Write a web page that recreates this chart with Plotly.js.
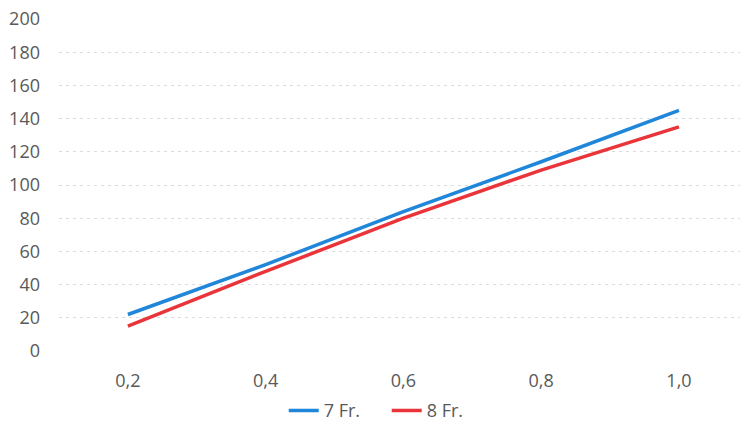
<!DOCTYPE html>
<html>
<head>
<meta charset="utf-8">
<script src="https://cdn.plot.ly/plotly-3.0.1.min.js"></script>
<style>html,body{margin:0;padding:0;background:#fff;}#chart{width:740px;height:423px;}</style>
</head>
<body>
<div id="chart"></div>
<script>
const xValues = [0.2, 0.4, 0.6, 0.8, 1.0];
const xTickLabels = ["0,2", "0,4", "0,6", "0,8", "1,0"];
const series7 = [22, 52, 84, 114, 145];
const series8 = [15, 48, 80, 109, 135];
const seriesNames = ["7 Fr.", "8 Fr."];
const yTicks = [0, 20, 40, 60, 80, 100, 120, 140, 160, 180, 200];

const font = {family: "Open Sans, Noto Sans, sans-serif", size: 18, color: "#595959"};

const data = [
  {x: xValues, y: series7, name: seriesNames[0], type: "scatter", mode: "lines",
   line: {color: "#1f86d9", width: 3.5}},
  {x: xValues, y: series8, name: seriesNames[1], type: "scatter", mode: "lines",
   line: {color: "#e9353a", width: 3.5}}
];

const layout = {
  width: 740, height: 423,
  margin: {l: 59, r: 0, t: 19, b: 72, autoexpand: false},
  paper_bgcolor: "#fff", plot_bgcolor: "#fff",
  font: font,
  showlegend: true,
  legend: {orientation: "h", x: 0.33, xanchor: "left", y: -0.18, yanchor: "middle",
           font: {family: font.family, size: 18, color: "#595959"}, itemwidth: 30,
           entrywidth: 58, entrywidthmode: "pixels"},
  xaxis: {range: [0.1, 1.0886], tickvals: xValues, ticktext: xTickLabels,
          showgrid: false, zeroline: false, showline: false, ticks: "",
          ticklabelstandoff: 17, tickfont: font},
  yaxis: {range: [0, 200], tickvals: yTicks, showgrid: true, gridcolor: "#dcdcdc",
          griddash: "3px,4px", gridwidth: 1, zeroline: false, showline: false,
          ticks: "", ticklabelstandoff: 18, tickfont: font}
};

Plotly.newPlot("chart", data, layout, {displayModeBar: false, staticPlot: true});
</script>
</body>
</html>
